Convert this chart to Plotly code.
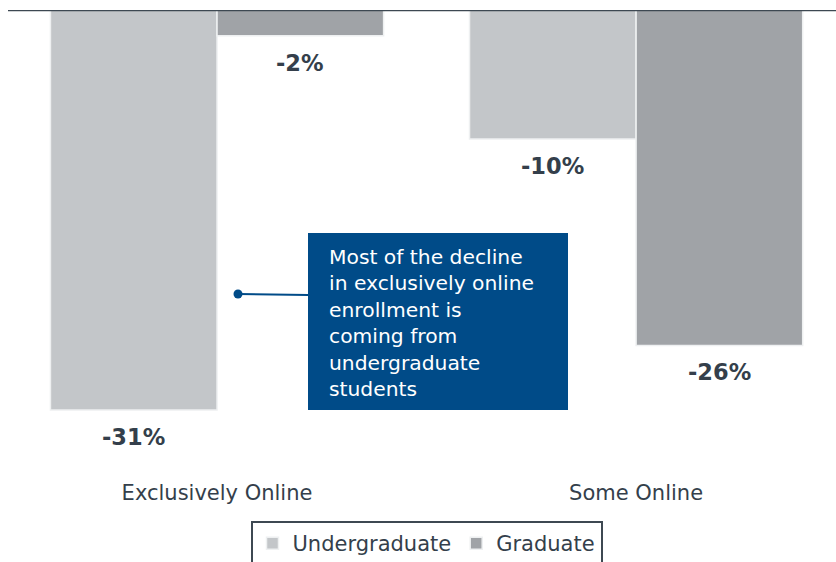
import plotly.graph_objects as go

categories = ["Exclusively Online", "Some Online"]
undergrad = [-31, -10]
graduate = [-2, -26]
series_names = ["Undergraduate", "Graduate"]
callout_text = "Most of the decline<br>in exclusively online<br>enrollment is<br>coming from<br>undergraduate<br>students"

W, H = 836, 562
ML, MR, MT, MB = 8, 0, 10, 84
PW, PH = W - ML - MR, H - MT - MB

def px_x(px):
    return (px - ML) / PW

def px_y(py):
    return (H - MB - py) / PH

UG_COLOR = "#c3c6c9"
GR_COLOR = "#a0a3a7"
NAVY = "#004b88"
TXT = "#343f4b"
FONT = "DejaVu Sans, Verdana, sans-serif"
BARGAP = 0.205

fig = go.Figure()
fig.add_trace(go.Bar(name=series_names[0], x=categories, y=undergrad,
                     marker=dict(color=UG_COLOR, line=dict(color="#eef0f1", width=1.5))))
fig.add_trace(go.Bar(name=series_names[1], x=categories, y=graduate,
                     marker=dict(color=GR_COLOR, line=dict(color="#eef0f1", width=1.5))))

off = (1 - BARGAP) / 4
annotations = []
for i, cat in enumerate(categories):
    for sign, vals in ((-1, undergrad), (1, graduate)):
        v = vals[i]
        annotations.append(dict(x=i + sign * off, xref="x", y=v, yref="y",
                                text=f"<b>{v}%</b>", showarrow=False,
                                yanchor="middle", yshift=-27,
                                font=dict(family=FONT, size=22.5, color=TXT)))

# callout text
annotations.append(dict(x=px_x(327), y=px_y(243), xref="paper", yref="paper",
                        xanchor="left", yanchor="top", align="left",
                        text=callout_text, showarrow=False,
                        font=dict(family=FONT, size=20.3, color="white")))

shapes = [
    dict(type="rect", xref="paper", yref="paper",
         x0=px_x(308), x1=px_x(568), y0=px_y(233), y1=px_y(410),
         fillcolor=NAVY, line=dict(width=0), layer="above"),
    dict(type="line", xref="paper", yref="paper",
         x0=px_x(238), x1=px_x(308), y0=px_y(294), y1=px_y(295),
         line=dict(color=NAVY, width=2), layer="above"),
    dict(type="circle", xref="paper", yref="paper",
         x0=px_x(233.5), x1=px_x(242.5), y0=px_y(289.5), y1=px_y(298.5),
         fillcolor=NAVY, line=dict(width=0), layer="above"),
    dict(type="line", xref="paper", yref="y", x0=0, x1=1, y0=0, y1=0,
         line=dict(color="#3d4852", width=2.5), layer="above"),
]

fig.update_layout(
    width=W, height=H,
    margin=dict(l=ML, r=MR, t=MT, b=MB, pad=0, autoexpand=False),
    paper_bgcolor="white", plot_bgcolor="white",
    barmode="group", bargap=BARGAP, bargroupgap=0,
    font=dict(family=FONT, size=21, color=TXT),
    xaxis=dict(range=[-0.4988, 1.477], showgrid=False, zeroline=False,
               showline=False, ticks="", tickfont=dict(size=21, color=TXT)),
    yaxis=dict(range=[-36.28, 0], visible=False, showgrid=False, zeroline=False),
    showlegend=True,
    legend=dict(orientation="h", x=px_x(426.5), xanchor="center",
                y=px_y(521), yanchor="top",
                bordercolor="#3d4852", borderwidth=2,
                font=dict(family=FONT, size=21, color=TXT),
                itemwidth=30, traceorder="normal"),
    annotations=annotations,
    shapes=shapes,
)

fig.write_html("out.html")
